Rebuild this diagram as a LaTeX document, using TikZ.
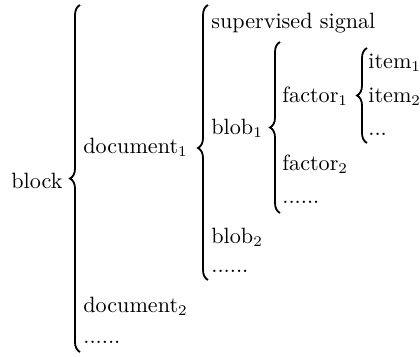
\documentclass[tikz,border=0pt]{standalone}
\usepackage{amsmath}
\usetikzlibrary{decorations.pathreplacing}
\begin{document}
\begin{tikzpicture}[x=0.47pt,y=-0.47pt,
    entry/.style ={anchor=base west, inner sep=0pt, font=\fontsize{10.4}{12}\selectfont},
    curly/.style ={decorate, decoration={brace, amplitude=4.7pt, #1}, line width=0.85pt},
    curly/.default={aspect=0.5}]
   \useasboundingbox (0,0) rectangle (420,356);
   \node[entry] (block) at (11,188) {block};
   \node[entry] (doc1) at (83,153) {document$_1$};
   \node[entry] (doc2) at (83,312) {document$_2$};
   \node[entry] (docdots) at (83,343) {......};
   \node[entry] (signal) at (211,28) {supervised signal};
   \node[entry] (blob1) at (211,134) {blob$_1$};
   \node[entry] (blob2) at (211,243) {blob$_2$};
   \node[entry] (blobdots) at (211,272) {......};
   \node[entry] (fac1) at (282,102) {factor$_1$};
   \node[entry] (fac2) at (282,170) {factor$_2$};
   \node[entry] (facdots) at (282,203) {......};
   \node[entry] (item1) at (368,68) {item$_1$};
   \node[entry] (item2) at (368,102) {item$_2$};
   \node[entry] (itemdots) at (368,135) {...};
   \coordinate (blocklow) at (80,352);
   \coordinate (blockhigh) at (80,5);
   \coordinate (doclow) at (208,280);
   \coordinate (dochigh) at (208,5);
   \coordinate (bloblow) at (280,213);
   \coordinate (blobhigh) at (280,42);
   \coordinate (faclow) at (367,143);
   \coordinate (fachigh) at (367,48);
   \draw[curly] (blocklow) -- (blockhigh);
   \draw[curly={aspect=0.48}] (doclow) -- (dochigh);
   \draw[curly] (bloblow) -- (blobhigh);
   \draw[curly] (faclow) -- (fachigh);
 \end{tikzpicture}
\end{document}
